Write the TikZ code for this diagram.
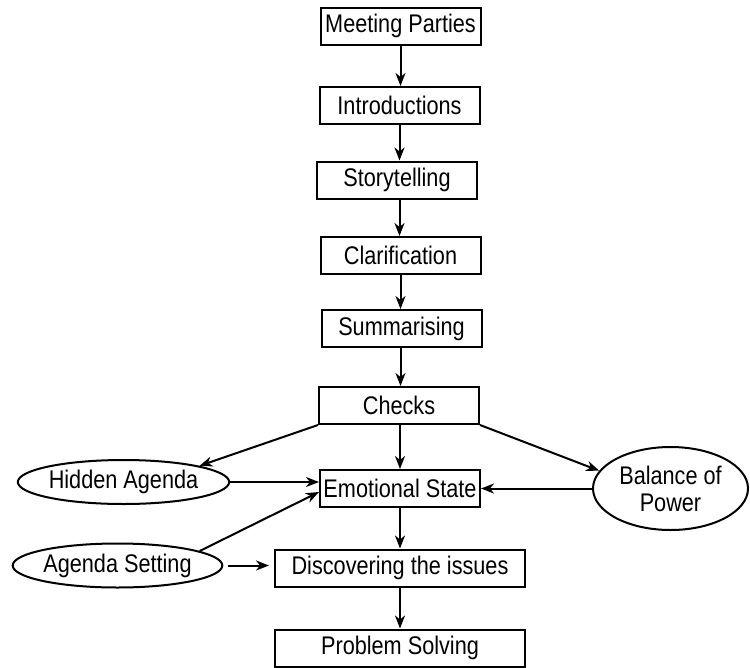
\documentclass[tikz,border=0pt]{standalone}
\usepackage{fontspec}
\setmainfont{Liberation Sans}[FakeStretch=0.85]
\usetikzlibrary{arrows.meta,shapes.geometric,calc}
\begin{document}
\begin{tikzpicture}[x=1pt,y=-1pt,
  every node/.style={font=\fontsize{25.5}{27}\selectfont, line width=2pt, inner sep=0pt},
  box/.style={draw, rectangle, minimum width=160pt, minimum height=37pt},
  widebox/.style={draw, rectangle, minimum width=250pt, minimum height=37pt},
  oval/.style={draw, ellipse, minimum width=205pt, minimum height=44pt},
  conn/.style={line width=2pt, -{Stealth[length=13pt,width=10pt,inset=4pt]}}
]
\useasboundingbox (0,0) rectangle (750,667);
\node[box] (mp) at (400.5,26) {Meeting Parties};
\node[box] (intro) at (399.5,105.5) {Introductions};
\node[box] (story) at (397,180) {Storytelling};
\node[box] (clar) at (400.5,255.5) {Clarification};
\node[box] (summ) at (401.5,328.5) {Summarising};
\node[box] (checks) at (399,405.5) {Checks};
\node[box] (emo) at (400,488.5) {Emotional State};
\node[widebox] (disc) at (400,568) {Discovering the issues};
\node[widebox] (ps) at (400,648) {Problem Solving};
\node[oval] (ha) at (123.5,482) {Hidden Agenda};
\node[oval] (as) at (117.5,565.5) {Agenda Setting};
\node[draw, ellipse, minimum width=155pt, minimum height=83pt, align=center] (bp) at (670.5,488.5) {Balance of\\Power};

\draw[conn] (mp.south) -- (mp.south |- intro.north);
\draw[conn] (intro.south) -- (intro.south |- story.north);
\draw[conn] (story.south -| intro.south) -- (intro.south |- clar.north);
\draw[conn] (clar.south) -- (clar.south |- summ.north);
\draw[conn] (summ.south -| clar.south) -- (clar.south |- checks.north);
\draw[conn] (checks.south -| emo.north) -- (emo.north);
\draw[conn] (checks.south west) -- (ha.12);
\draw[conn] (checks.south east) -- (bp.166);
\draw[conn] (bp.west) -- (emo.east);
\draw[conn] (ha.east) -- (ha.east -| emo.west);
\draw[conn] (as.10) -- ($(emo.west)+(0,3.5)$);
\draw[conn] ([xshift=5pt]as.east) -- ([xshift=-5pt]as.east -| disc.west);
\draw[conn] (emo.south) -- (emo.south |- disc.north);
\draw[conn] (disc.south) -- (ps.north);
\end{tikzpicture}
\end{document}
